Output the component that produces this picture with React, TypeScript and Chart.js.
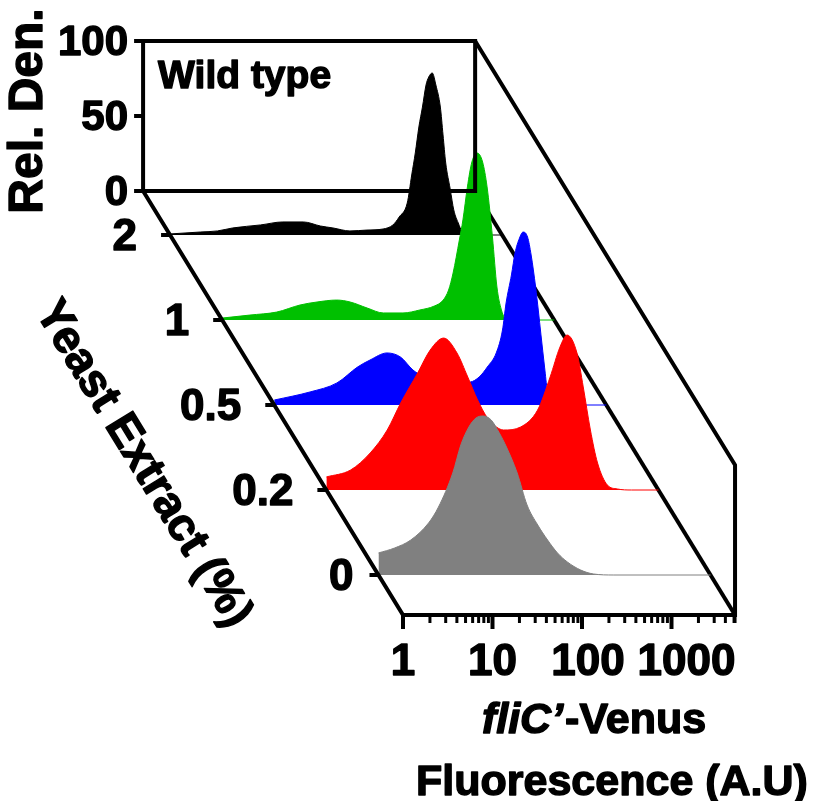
import React, { useEffect, useRef } from "react";
import { Chart, registerables } from "chart.js";

Chart.register(...registerables);

// ---------------- DATA ----------------
// Yeast extract concentrations (%), listed front to back
const CONCENTRATIONS = ["0", "0.2", "0.5", "1", "2"];
const SERIES_COLORS = ["#808080", "#ff0000", "#0000ff", "#00c000", "#000000"];

// x: log10(fliC'-Venus fluorescence, A.U.)   y: relative density
const LOGF_0 = [0, 0.18, 0.36, 0.56, 0.67, 0.83, 0.92, 1.01, 1.09, 1.17, 1.26, 1.35, 1.43, 1.55, 1.66, 1.78, 1.89, 2.0, 2.11, 2.26, 2.4, 2.63, 3.71];
const DENS_0 = [14.7, 18, 23.3, 34.7, 45.3, 68, 86.7, 98.7, 104.7, 106, 103.3, 94.7, 85.3, 68, 46.7, 33.3, 23.3, 14.7, 8.7, 3.3, 0.7, 0, 0];

const LOGF_02 = [0, 0.27, 0.49, 0.68, 0.83, 1.02, 1.16, 1.31, 1.46, 1.58, 1.69, 1.8, 1.9, 1.98, 2.17, 2.36, 2.5, 2.61, 2.69, 2.8, 2.87, 2.95, 3.03, 3.14, 3.25, 3.41, 3.71];
const DENS_02 = [8.7, 13.3, 24.7, 40, 58, 78, 93.3, 101.3, 91.3, 75.3, 60, 48, 42, 40, 42, 53.3, 75.3, 95.3, 103.3, 91.3, 68.7, 40, 18, 3.3, 0.7, 0, 0];

const LOGF_05 = [0, 0.4, 0.7, 0.93, 1.07, 1.26, 1.41, 1.55, 1.68, 1.84, 2.01, 2.19, 2.29, 2.38, 2.48, 2.55, 2.59, 2.65, 2.69, 2.74, 2.78, 2.83, 2.87, 2.92, 2.95, 2.98, 3.02, 3.05, 3.08, 3.13, 3.24, 3.71];
const DENS_05 = [3.3, 8.7, 14.7, 25.3, 30, 34.7, 32, 23.3, 18.7, 16, 14.7, 15.3, 18.7, 25.3, 34.7, 50, 68, 86.7, 101.3, 111.3, 115.3, 112, 100, 78.7, 63.3, 46.7, 25.3, 10, 3.3, 0.7, 0, 0];

const LOGF_1 = [0, 0.31, 0.61, 0.87, 1.06, 1.28, 1.43, 1.62, 1.8, 2.02, 2.21, 2.37, 2.47, 2.53, 2.58, 2.65, 2.69, 2.74, 2.79, 2.85, 2.91, 2.96, 3.02, 3.07, 3.12, 3.16, 3.22, 3.71];
const DENS_1 = [1.3, 3.3, 5.3, 10, 12, 13.3, 12, 8, 4.7, 4.7, 6.7, 9.3, 13.3, 20, 31.3, 53.3, 66.7, 88.7, 105.3, 111.3, 105.3, 88.7, 55.3, 22, 6.7, 1.3, 0, 0];

const LOGF_2 = [0, 0.34, 0.53, 0.7, 1.01, 1.26, 1.49, 1.68, 1.82, 2.01, 2.2, 2.38, 2.49, 2.56, 2.65, 2.7, 2.74, 2.78, 2.82, 2.86, 2.89, 2.93, 2.97, 3.02, 3.05, 3.08, 3.13, 3.17, 3.22, 3.26, 3.31, 3.35, 3.71];
const DENS_2 = [0.7, 2, 2.7, 4.7, 6.7, 8.7, 8.7, 6, 4.7, 2.7, 3.3, 4, 6.7, 12, 21.3, 40, 54.7, 72, 85.3, 100, 105.3, 108, 100, 85.3, 66.7, 48, 30.7, 16.7, 8, 2.7, 0.7, 0, 0];

const SERIES_LOGF = [LOGF_0, LOGF_02, LOGF_05, LOGF_1, LOGF_2];
const SERIES_DENS = [DENS_0, DENS_02, DENS_05, DENS_1, DENS_2];

const X_TICK_DECADES = [0, 1, 2, 3];
const X_TICK_LABELS = ["1", "10", "100", "1000"];
const DENS_TICKS = [0, 50, 100];
const LOGF_MAX = 3.71;
const PANEL_LABEL = "Wild type";

// ---------------- LAYOUT ----------------
const W = 817;
const H = 801;
const ORIGIN_X = 403; // pixel of logF = 0 on the front plane
const ORIGIN_Y = 615; // pixel of density 0 on the front plane
const PX_PER_DECADE = 89.5;
const PX_PER_DENS = 1.5;
const SHEAR = 0.613; // horizontal px per vertical px of depth
const RIDGE_DEPTHS = [40, 125, 210, 295, 380];
const BOX_DEPTH = 424;
const X_LABEL_NUDGE = [0, 0, 6, 15];
const RIDGE_LABEL_GAP = [25, 33, 33, 33, 33];
const FONT = '"Liberation Sans", Arial, Helvetica, sans-serif';
const f = (size: number, italic = false) => `${italic ? "italic " : ""}bold ${size}px ${FONT}`;

const dxU = (depth: number) => (-depth * SHEAR) / PX_PER_DECADE;
const dyD = (depth: number) => depth / PX_PER_DENS;

const heavyText = (ctx: CanvasRenderingContext2D, s: string, x: number, y: number) => {
  ctx.fillText(s, x, y);
  ctx.strokeText(s, x, y);
};

const framePlugin = {
  id: "frame3d",
  beforeDatasetsDraw(chart: any) {
    const { ctx } = chart;
    const xs = chart.scales.x;
    const ys = chart.scales.y;
    const P = (u: number, d: number, depth: number) => [
      xs.getPixelForValue(u + dxU(depth)),
      ys.getPixelForValue(d + dyD(depth)),
    ];
    ctx.save();
    ctx.strokeStyle = "#000";
    ctx.lineWidth = 4;
    const a = P(LOGF_MAX, 0, BOX_DEPTH);
    const b = P(LOGF_MAX, 0, 0);
    ctx.beginPath();
    ctx.moveTo(a[0], a[1]);
    ctx.lineTo(b[0], b[1]);
    ctx.stroke();
    ctx.restore();
  },
  afterDatasetsDraw(chart: any) {
    const { ctx } = chart;
    const xs = chart.scales.x;
    const ys = chart.scales.y;
    const P = (u: number, d: number, depth: number) => [
      xs.getPixelForValue(u + dxU(depth)),
      ys.getPixelForValue(d + dyD(depth)),
    ];
    const line = (pts: number[][], close = false) => {
      ctx.beginPath();
      ctx.moveTo(pts[0][0], pts[0][1]);
      for (let i = 1; i < pts.length; i++) ctx.lineTo(pts[i][0], pts[i][1]);
      if (close) ctx.closePath();
      ctx.stroke();
    };
    ctx.save();
    ctx.strokeStyle = "#000";
    ctx.fillStyle = "#000";
    ctx.lineWidth = 4;
    ctx.lineJoin = "miter";

    // back panel box
    line([P(0, 0, BOX_DEPTH), P(LOGF_MAX, 0, BOX_DEPTH), P(LOGF_MAX, 100, BOX_DEPTH), P(0, 100, BOX_DEPTH)], true);
    // left depth edge + front bottom + front right + top depth edge
    line([P(0, 0, BOX_DEPTH), P(0, 0, 0), P(LOGF_MAX, 0, 0), P(LOGF_MAX, 100, 0), P(LOGF_MAX, 100, BOX_DEPTH)]);

    // x axis ticks (log)
    for (let n = 0; n <= 3; n++) {
      for (let k = 1; k <= 9; k++) {
        const u = n + Math.log10(k);
        if (u > LOGF_MAX + 1e-6) continue;
        const [px, py] = P(u, 0, 0);
        const major = k === 1;
        ctx.lineWidth = major ? 4 : 3;
        line([[px, py], [px, py + (major ? 14 : 8)]]);
      }
    }
    {
      const [px, py] = P(LOGF_MAX, 0, 0);
      ctx.lineWidth = 3;
      line([[px, py], [px, py + 8]]);
    }

    // ridge depth ticks
    ctx.lineWidth = 4;
    RIDGE_DEPTHS.forEach((depth) => {
      const [px, py] = P(0, 0, depth);
      line([[px - 9, py], [px, py]]);
    });
    // density ticks on back panel
    DENS_TICKS.forEach((d) => {
      const [px, py] = P(0, d, BOX_DEPTH);
      line([[px - 9, py], [px, py]]);
    });

    // ---- text (slightly stroked to match the heavy bold look) ----
    ctx.lineWidth = 1.4;
    ctx.lineJoin = "round";

    // x tick labels
    ctx.font = f(44);
    ctx.textAlign = "center";
    ctx.textBaseline = "alphabetic";
    X_TICK_DECADES.forEach((u, i) => {
      const [px, py] = P(u, 0, 0);
      heavyText(ctx, X_TICK_LABELS[i], px + X_LABEL_NUDGE[i], py + 60);
    });

    // ridge labels
    ctx.font = f(44);
    ctx.textAlign = "right";
    ctx.textBaseline = "middle";
    RIDGE_DEPTHS.forEach((depth, i) => {
      const [px, py] = P(0, 0, depth);
      heavyText(ctx, CONCENTRATIONS[i], px - RIDGE_LABEL_GAP[i], py + 3);
    });

    // density tick labels
    ctx.font = f(42);
    DENS_TICKS.forEach((d) => {
      const [px, py] = P(0, d, BOX_DEPTH);
      heavyText(ctx, String(d), px - 15, py + 2);
    });

    // panel label
    {
      const [px, py] = P(0, 100, BOX_DEPTH);
      ctx.font = f(39);
      ctx.textAlign = "left";
      ctx.textBaseline = "alphabetic";
      heavyText(ctx, PANEL_LABEL, px + 15, py + 47);
    }

    // Rel. Den. title
    ctx.save();
    ctx.translate(42, 111);
    ctx.rotate(-Math.PI / 2);
    ctx.font = f(48);
    ctx.textAlign = "center";
    ctx.textBaseline = "alphabetic";
    heavyText(ctx, "Rel. Den.", 0, 0);
    ctx.restore();

    // Yeast Extract (%) title along the depth edge
    {
      const a = P(0, 0, BOX_DEPTH);
      const b = P(0, 0, 0);
      const ang = Math.atan2(b[1] - a[1], b[0] - a[0]);
      ctx.save();
      ctx.translate(143, 464);
      ctx.rotate(ang);
      ctx.font = f(46);
      ctx.textAlign = "center";
      ctx.textBaseline = "middle";
      heavyText(ctx, "Yeast Extract (%)", 0, 0);
      ctx.restore();
    }

    // bottom titles
    {
      const part1 = "fliC\u2019";
      const part2 = "-Venus";
      ctx.textBaseline = "alphabetic";
      ctx.textAlign = "left";
      ctx.font = f(43, true);
      const w1 = ctx.measureText(part1).width;
      ctx.font = f(43);
      const w2 = ctx.measureText(part2).width;
      const cx = 593;
      const x0 = cx - (w1 + w2) / 2;
      ctx.font = f(43, true);
      heavyText(ctx, part1, x0, 733);
      ctx.font = f(43);
      heavyText(ctx, part2, x0 + w1 + 2, 733);
      ctx.textAlign = "center";
      heavyText(ctx, "Fluorescence (A.U)", 612, 795);
    }
    ctx.restore();
  },
};

export default function App() {
  const ref = useRef<HTMLCanvasElement | null>(null);
  useEffect(() => {
    if (!ref.current) return;
    const datasets = RIDGE_DEPTHS.map((depth, i) => ({
      label: CONCENTRATIONS[i],
      data: SERIES_LOGF[i].map((u, j) => ({ x: u + dxU(depth), y: SERIES_DENS[i][j] + dyD(depth) })),
      borderColor: SERIES_COLORS[i],
      backgroundColor: SERIES_COLORS[i],
      borderWidth: 1,
      pointRadius: 0,
      cubicInterpolationMode: "monotone" as const,
      fill: { value: dyD(depth) },
    }));
    const chart = new Chart(ref.current, {
      type: "line",
      data: { datasets },
      options: {
        animation: false,
        responsive: false,
        devicePixelRatio: 1,
        layout: { padding: 0 },
        events: [],
        plugins: { legend: { display: false }, tooltip: { enabled: false }, filler: { propagate: false } },
        scales: {
          x: {
            type: "linear",
            display: false,
            min: -ORIGIN_X / PX_PER_DECADE,
            max: (W - ORIGIN_X) / PX_PER_DECADE,
          },
          y: {
            type: "linear",
            display: false,
            min: (ORIGIN_Y - H) / PX_PER_DENS,
            max: ORIGIN_Y / PX_PER_DENS,
          },
        },
      },
      plugins: [framePlugin],
    });
    return () => chart.destroy();
  }, []);
  return (
    <div style={{ position: "fixed", left: 0, top: 0, width: W, height: H, background: "#fff" }}>
      <canvas ref={ref} width={W} height={H} style={{ display: "block", width: W, height: H }} />
    </div>
  );
}
